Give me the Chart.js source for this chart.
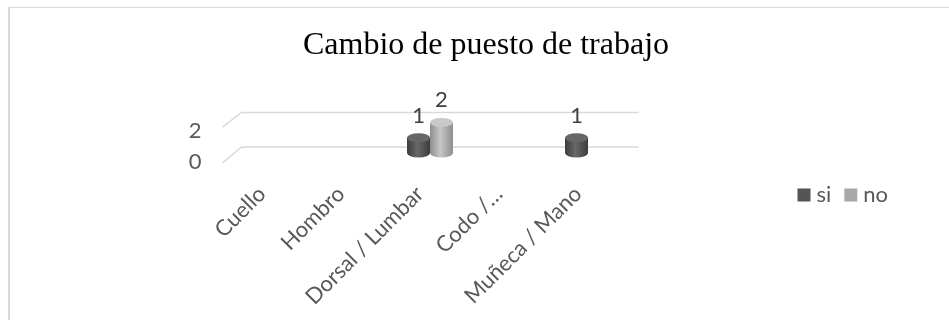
<!DOCTYPE html>
<html lang="es">
<head>
<meta charset="utf-8">
<title>Cambio de puesto de trabajo</title>
<script src="https://cdn.jsdelivr.net/npm/chart.js@4.4.1/dist/chart.umd.min.js"></script>
<style>
    html, body { margin: 0; padding: 0; background: #fff; overflow: hidden; }
    .wrap { position: relative; width: 949px; height: 320px; overflow: hidden; }
    .marco {
        position: absolute; left: 8px; top: 7px; width: 980px; height: 400px;
        border-left: 2px solid #d9d9d9; border-top: 1px solid #d9d9d9;
    }
    canvas { position: absolute; left: 0; top: 0; }
</style>
</head>
<body>
<div class="wrap">
    <div class="marco"></div>
    <canvas id="grafico" width="949" height="320"></canvas>
</div>
<script>
// Datos del gráfico
const categorias = ['Cuello', 'Hombro', 'Dorsal / Lumbar', 'Codo /…', 'Muñeca / Mano'];
const valoresSi = [0, 0, 1, 0, 1];
const valoresNo = [0, 0, 2, 0, 0];
const ticksY = [0, 2];

const fuente = "Lato, 'Open Sans', sans-serif";
const colorTexto = '#595959';

// Estilo de cada serie (cilindros)
const estilos = [
    { base: '#555555', borde: '#3c3c3c', brillo: '#686868', tapa: '#676767' },
    { base: '#a8a8a8', borde: '#8e8e8e', brillo: '#c6c6c6', tapa: '#c9c9c9' }
];

// Líneas de cuadrícula con aspecto 3D
const cuadricula3d = {
    id: 'cuadricula3d',
    beforeDatasetsDraw(chart) {
        const { ctx, chartArea, scales } = chart;
        const y = scales.y;
        ctx.save();
        ctx.strokeStyle = '#d9d9d9';
        ctx.lineWidth = 1.5;
        y.ticks.forEach(t => {
            const py = y.getPixelForValue(t.value);
            const d = chartArea.bottom - py;
            const atras = py - 6 - d * 0.13;
            const frente = py + 10 - d * 0.17;
            ctx.beginPath();
            ctx.moveTo(chartArea.left - 10, frente);
            ctx.lineTo(chartArea.left + 9, atras);
            ctx.lineTo(chartArea.right + 11, atras);
            ctx.stroke();
        });
        ctx.restore();
    }
};

// Cilindros y etiquetas de datos
const cilindros = {
    id: 'cilindros',
    afterDatasetsDraw(chart) {
        const ctx = chart.ctx;
        ctx.save();
        chart.data.datasets.forEach((ds, i) => {
            const meta = chart.getDatasetMeta(i);
            const est = estilos[i];
            meta.data.forEach((bar, j) => {
                if (!ds.data[j]) return;
                const { x, y, base, width } = bar.getProps(['x', 'y', 'base', 'width'], true);
                const rx = width / 2;
                const ry = 4.5;
                const grad = ctx.createLinearGradient(x - rx, 0, x + rx, 0);
                grad.addColorStop(0, est.borde);
                grad.addColorStop(0.45, est.brillo);
                grad.addColorStop(1, est.borde);
                ctx.fillStyle = grad;
                ctx.fillRect(x - rx, y, width, base - y);
                ctx.beginPath();
                ctx.ellipse(x, base, rx, ry, 0, 0, Math.PI * 2);
                ctx.fill();
                ctx.fillStyle = est.tapa;
                ctx.beginPath();
                ctx.ellipse(x, y, rx, ry, 0, 0, Math.PI * 2);
                ctx.fill();

                ctx.fillStyle = '#404040';
                ctx.font = '22px ' + fuente;
                ctx.textAlign = 'center';
                ctx.textBaseline = 'middle';
                ctx.fillText(String(ds.data[j]), x, y - 22);
            });
        });
        ctx.restore();
    }
};

// Leyenda horizontal a la derecha
const leyenda = {
    id: 'leyenda',
    afterDraw(chart) {
        const ctx = chart.ctx;
        let x = chart.chartArea.right + 170;
        const ym = 195;
        ctx.save();
        ctx.font = '22px ' + fuente;
        ctx.textAlign = 'left';
        ctx.textBaseline = 'middle';
        chart.data.datasets.forEach((ds, i) => {
            ctx.fillStyle = estilos[i].base;
            ctx.fillRect(x, ym - 6.5, 13, 13);
            ctx.fillStyle = colorTexto;
            ctx.fillText(ds.label, x + 19, ym);
            x += 19 + ctx.measureText(ds.label).width + 13;
        });
        ctx.restore();
    }
};

new Chart(document.getElementById('grafico'), {
    type: 'bar',
    data: {
        labels: categorias,
        datasets: [
            { label: 'si', data: valoresSi, backgroundColor: estilos[0].base, borderWidth: 0 },
            { label: 'no', data: valoresNo, backgroundColor: estilos[1].base, borderWidth: 0 }
        ]
    },
    options: {
        responsive: false,
        animation: false,
        devicePixelRatio: 1,
        categoryPercentage: 0.58,
        barPercentage: 1,
        layout: { padding: { left: 23, right: 0, top: 0, bottom: 14 } },
        plugins: {
            legend: { display: false },
            tooltip: { enabled: false },
            title: {
                display: true,
                text: 'Cambio de puesto de trabajo',
                color: '#000',
                font: { family: "'Liberation Serif', 'Times New Roman', serif", size: 32, weight: 'normal' },
                padding: { top: 26, bottom: 58 }
            }
        },
        scales: {
            x: {
                grid: { display: false, drawTicks: false },
                border: { display: false },
                ticks: {
                    color: colorTexto,
                    font: { family: fuente, size: 22 },
                    minRotation: 45,
                    maxRotation: 45,
                    autoSkip: false,
                    labelOffset: -10,
                    padding: 28
                }
            },
            y: {
                min: 0,
                max: 2,
                grid: { display: false, drawTicks: false },
                border: { display: false },
                afterBuildTicks: axis => { axis.ticks = ticksY.map(v => ({ value: v })); },
                afterFit: axis => { axis.width = 209.5; },
                ticks: {
                    color: colorTexto,
                    font: { family: fuente, size: 22 },
                    padding: 31,
                    labelOffset: 9
                }
            },
            yDer: {
                type: 'linear',
                position: 'right',
                grid: { display: false, drawTicks: false },
                border: { display: false },
                ticks: { display: false },
                afterFit: axis => { axis.width = 321.5; }
            }
        }
    },
    plugins: [cuadricula3d, cilindros, leyenda]
});
</script>
</body>
</html>
